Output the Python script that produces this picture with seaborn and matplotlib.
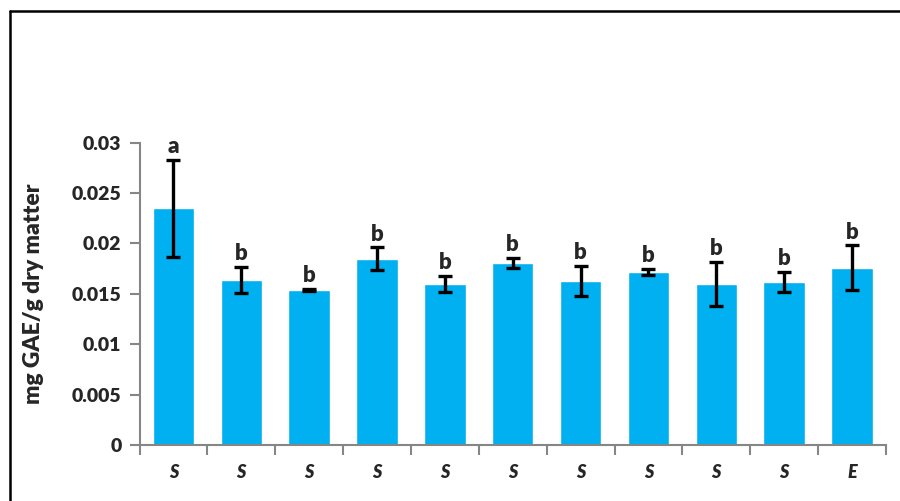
import numpy as np
import pandas as pd
import seaborn as sns
import matplotlib.pyplot as plt
from matplotlib.lines import Line2D

# Data
samples = ['S1', 'S2', 'S3', 'S4', 'S5', 'S6', 'S7', 'S8', 'S9', 'S10', 'E1']
labels = ['S', 'S', 'S', 'S', 'S', 'S', 'S', 'S', 'S', 'S', 'E']
means = [0.0235, 0.0164, 0.0154, 0.0185, 0.0160, 0.0181, 0.0163, 0.0172, 0.0160, 0.0162, 0.0176]
errors = [0.0048, 0.0013, 0.0001, 0.0011, 0.0008, 0.0005, 0.0015, 0.0003, 0.0022, 0.0010, 0.0022]
letters = ['a', 'b', 'b', 'b', 'b', 'b', 'b', 'b', 'b', 'b', 'b']
yticks = [0, 0.005, 0.01, 0.015, 0.02, 0.025, 0.03]

sns.set_style('white')
plt.rcParams['font.family'] = ['Lato', 'DejaVu Sans']

df = pd.DataFrame({'sample': samples, 'mean': means, 'err': errors})

fig = plt.figure(figsize=(9, 5.01), dpi=100)
ax = fig.add_axes([0.155, 0.1118, 0.8294, 0.6034])

sns.barplot(data=df, x='sample', y='mean', order=samples, color='#00B0F0',
            saturation=1, width=0.61, errorbar=None, ax=ax)
ax.errorbar(np.arange(len(df)), df['mean'], yerr=df['err'], fmt='none',
            ecolor='black', elinewidth=2.4, capsize=5, capthick=2.4)

# significance letters above the error bars
for i, (m, e, l) in enumerate(zip(means, errors, letters)):
    ax.annotate(l, (i, m + e), xytext=(0, 2), textcoords='offset points',
                ha='center', va='bottom', fontsize=16, fontweight='heavy')

ax.set_xlim(-0.5, len(samples) - 0.5)
ax.set_ylim(0, 0.03)
ax.set_yticks(yticks)
ax.set_yticklabels([f'{t:g}' for t in yticks], fontsize=14, fontweight='heavy')
ax.set_xticks(range(len(samples)))
ax.set_xticklabels(labels, fontsize=13, fontweight='heavy', style='italic')
ax.set_xticks(np.arange(-0.5, len(samples), 1), minor=True)

grey = '#868686'
sns.despine(ax=ax)
for side in ['left', 'bottom']:
    ax.spines[side].set_color(grey)
    ax.spines[side].set_linewidth(1.5)
ax.tick_params(axis='y', length=7, width=1.5, color=grey, direction='out', left=True, pad=6)
ax.tick_params(axis='x', which='major', length=0, pad=14)
ax.tick_params(axis='x', which='minor', length=7, width=1.5, color=grey, direction='out', bottom=True)

ax.set_xlabel('')
ax.set_ylabel('mg GAE/g dry matter', fontsize=16.5, fontweight='heavy')
ax.yaxis.set_label_coords(-0.128, 0.5)

# outer frame (top and left edges only)
fig.add_artist(Line2D([9.5 / 900, 9.5 / 900], [0, 1 - 10.5 / 501], transform=fig.transFigure,
                      color='black', lw=1.8))
fig.add_artist(Line2D([9.5 / 900, 1], [1 - 10.5 / 501, 1 - 10.5 / 501], transform=fig.transFigure,
                      color='black', lw=1.8))

fig.savefig('out.png', dpi=100)
